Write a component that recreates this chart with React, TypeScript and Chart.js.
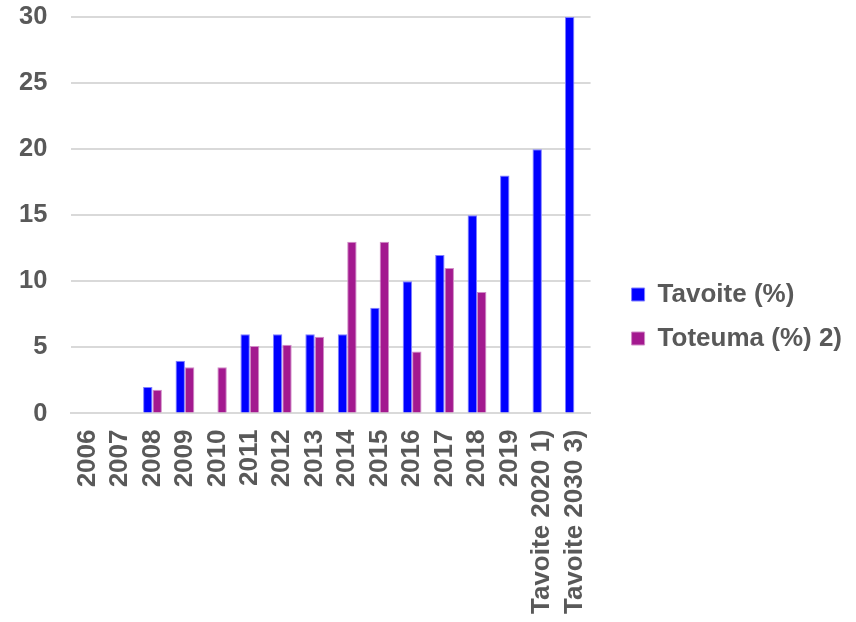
import { Chart, registerables } from 'chart.js';
import { useEffect, useRef } from 'react';

Chart.register(...registerables);

const categories = [
  '2006', '2007', '2008', '2009', '2010', '2011', '2012', '2013', '2014',
  '2015', '2016', '2017', '2018', '2019', 'Tavoite 2020 1)', 'Tavoite 2030 3)',
];
const tavoite = [null, null, 2, 4, null, 6, 6, 6, 6, 8, 10, 12, 15, 18, 20, 30];
const toteuma = [null, null, 1.8, 3.5, 3.5, 5.1, 5.2, 5.8, 13, 13, 4.7, 11, 9.2, null, null, null];
const yTicks = [0, 5, 10, 15, 20, 25, 30];

const FONT = '"Liberation Sans", Arial, sans-serif';
const GREY = '#595959';

const App = () => {
  const canvasRef = useRef<HTMLCanvasElement>(null);
  const chartRef = useRef<Chart | null>(null);

  useEffect(() => {
    document.body.style.margin = '0';
    const ctx = canvasRef.current?.getContext('2d');
    if (!ctx) return;
    chartRef.current = new Chart(ctx, {
      type: 'bar',
      data: {
        labels: categories,
        datasets: [
          {
            label: 'Tavoite (%)',
            data: tavoite,
            backgroundColor: '#0000ff',
            borderColor: '#7f7fff',
            borderWidth: 1,
          },
          {
            label: 'Toteuma (%) 2)',
            data: toteuma,
            backgroundColor: '#a3198f',
            borderColor: '#d08cc6',
            borderWidth: 1,
          },
        ],
      },
      options: {
        animation: false,
        responsive: false,
        layout: { padding: { top: 17, left: 19, right: 4, bottom: 6 } },
        datasets: { bar: { barPercentage: 1, categoryPercentage: 0.58 } },
        plugins: {
          tooltip: { enabled: false },
          legend: {
            position: 'right',
            maxWidth: 300,
            labels: {
              boxWidth: 13,
              boxHeight: 13,
              padding: 18,
              color: GREY,
              font: { family: FONT, size: 26, weight: 'bold' },
            },
          },
        },
        scales: {
          x: {
            grid: { display: false, drawTicks: true, tickLength: 14, tickColor: 'transparent' },
            border: { color: '#d9d9d9', width: 2 },
            ticks: {
              color: GREY,
              font: { family: FONT, size: 26, weight: 'bold' },
              minRotation: 90,
              maxRotation: 90,
              autoSkip: false,
              padding: 2,
            },
          },
          y: {
            min: 0,
            max: 30,
            afterBuildTicks: (axis) => {
              axis.ticks = yTicks.map((v) => ({ value: v }));
            },
            grid: { color: '#d9d9d9', lineWidth: 2, tickLength: 24, tickColor: 'transparent' },
            border: { display: false },
            ticks: {
              color: GREY,
              font: { family: FONT, size: 25.5, weight: 'bold' },
              padding: 0,
            },
          },
          // empty spacer between the plot and the legend
          gap: {
            type: 'linear',
            position: 'right',
            grid: { display: false, drawTicks: false },
            border: { display: false },
            ticks: { display: false },
            afterFit: (axis) => {
              axis.width = 23;
            },
          },
        },
      },
    });
    return () => {
      if (chartRef.current) {
        chartRef.current.destroy();
        chartRef.current = null;
      }
    };
  }, []);

  return (
    <div style={{ width: 856, height: 622 }}>
      <canvas ref={canvasRef} width={856} height={622} />
    </div>
  );
};

export default App;
